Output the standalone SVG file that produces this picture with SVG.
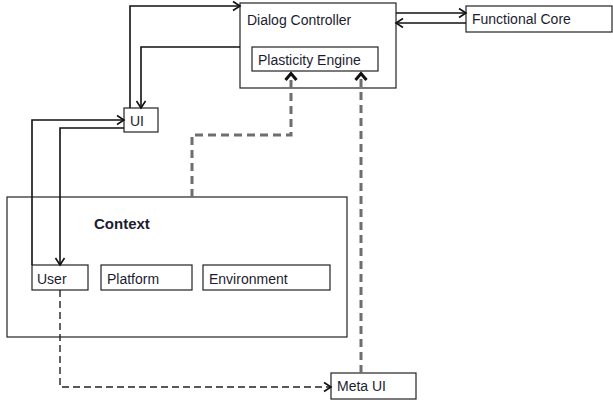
<svg xmlns="http://www.w3.org/2000/svg" width="613" height="400" viewBox="0 0 613 400">
  <style>
    .box { fill: #ffffff; stroke: #222222; stroke-width: 1.2; }
    .lbl { font-family: "Liberation Sans", Arial, sans-serif; font-size: 14px; fill: #1c1c30; }
    .bold { font-weight: bold; font-size: 15px; }
    .flow { fill: none; stroke: #111111; stroke-width: 1.6; }
    .dash { fill: none; stroke: #222222; stroke-width: 1.4; stroke-dasharray: 7 4; }
    .gdash { fill: none; stroke: #6e6e6e; stroke-width: 3; stroke-dasharray: 8 5; }
  </style>
  <defs>
    <marker id="arrow" markerUnits="userSpaceOnUse" markerWidth="12" markerHeight="12" refX="10" refY="6" orient="auto">
      <path d="M3,1.5 L10,6 L3,10.5" fill="none" stroke="#111111" stroke-width="1.6"/>
    </marker>
    <marker id="chev" markerUnits="userSpaceOnUse" markerWidth="16" markerHeight="16" refX="10" refY="8" orient="auto">
      <path d="M3,2.5 L9.5,8 L3,13.5" fill="none" stroke="#111111" stroke-width="3"/>
    </marker>
  </defs>

  <rect width="613" height="400" fill="#ffffff"/>

  <g id="context">
    <rect class="box" x="7" y="197" width="340" height="140"/>
    <text class="lbl bold" x="94" y="229">Context</text>
  </g>

  <g id="dialog-controller">
    <rect class="box" x="240" y="3" width="156" height="85"/>
    <text class="lbl" x="247" y="25">Dialog Controller</text>
  </g>

  <g id="plasticity-engine">
    <rect class="box" x="252" y="47" width="126" height="24"/>
    <text class="lbl" x="258" y="65">Plasticity Engine</text>
  </g>

  <g id="functional-core">
    <rect class="box" x="466" y="6" width="146" height="26"/>
    <text class="lbl" x="472" y="24">Functional Core</text>
  </g>

  <g id="ui">
    <rect class="box" x="124" y="108" width="34" height="24"/>
    <text class="lbl" x="130" y="126">UI</text>
  </g>

  <g id="user">
    <rect class="box" x="32" y="265" width="56" height="25"/>
    <text class="lbl" x="37" y="284">User</text>
  </g>

  <g id="platform">
    <rect class="box" x="101" y="265" width="91" height="25"/>
    <text class="lbl" x="107" y="284">Platform</text>
  </g>

  <g id="environment">
    <rect class="box" x="203" y="265" width="127" height="25"/>
    <text class="lbl" x="209" y="284">Environment</text>
  </g>

  <g id="meta-ui">
    <rect class="box" x="331" y="373" width="85" height="26"/>
    <text class="lbl" x="337" y="391">Meta UI</text>
  </g>

  <g id="connectors">
    <!-- UI / Dialog Controller -->
    <path class="flow" d="M130,108 V6 H240" marker-end="url(#arrow)"/>
    <path class="flow" d="M240,47 H141 V108" marker-end="url(#arrow)"/>
    <!-- Dialog Controller / Functional Core -->
    <path class="flow" d="M396,13 H466" marker-end="url(#arrow)"/>
    <path class="flow" d="M466,23 H396" marker-end="url(#arrow)"/>
    <!-- User / UI -->
    <path class="flow" d="M32,265 V120 H124" marker-end="url(#arrow)"/>
    <path class="flow" d="M124,128 H60 V265" marker-end="url(#arrow)"/>
    <!-- adaptation feeds into the Plasticity Engine -->
    <path class="gdash" d="M192,197 V135 H291 V73" marker-end="url(#chev)"/>
    <path class="gdash" d="M361,373 V73" marker-end="url(#chev)"/>
    <!-- User to Meta UI -->
    <path class="dash" d="M60,290 V387 H331" marker-end="url(#arrow)"/>
  </g>
</svg>
